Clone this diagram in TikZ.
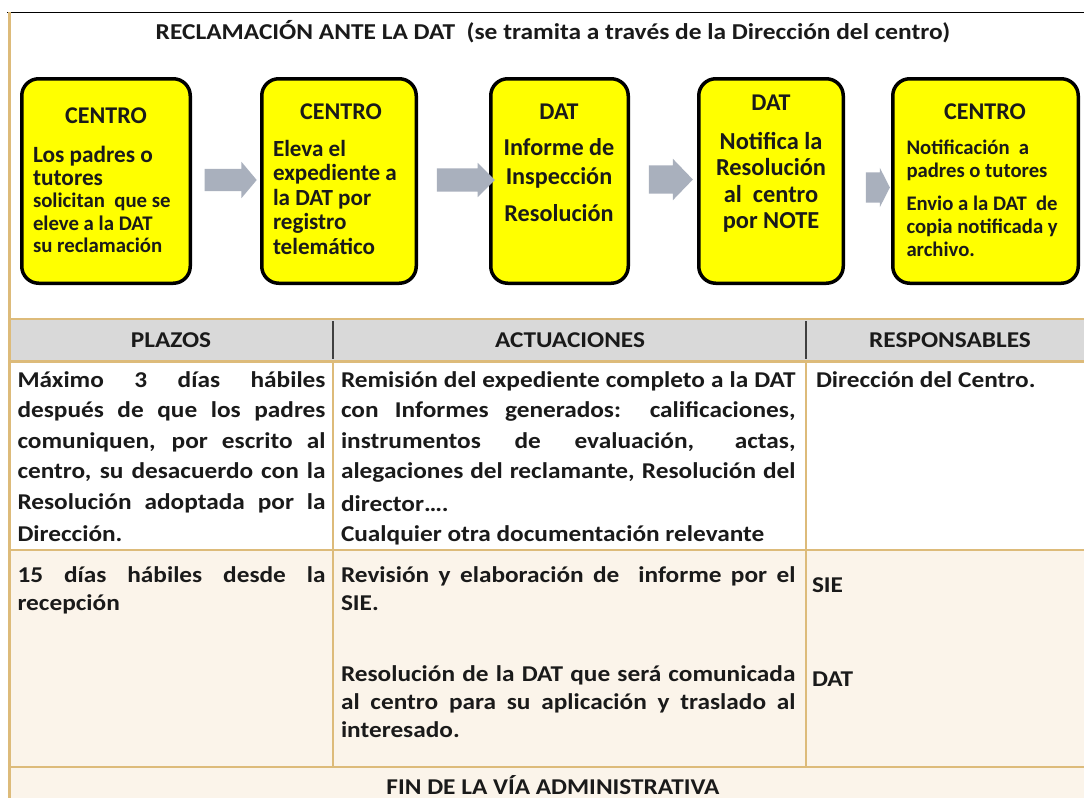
\documentclass[tikz,border=0pt]{standalone}
\usepackage{fontspec}
\setmainfont{Carlito}
\newfontfamily\wide{Carlito}[FakeStretch=1.12]
\usetikzlibrary{shapes.arrows}
\definecolor{gold}{HTML}{DDBB7A}
\definecolor{hdrgrey}{HTML}{D9D9D9}
\definecolor{cream}{HTML}{FBF4EA}
\definecolor{arrowgrey}{HTML}{A9B0BD}
\definecolor{boxyellow}{HTML}{FFFF00}
\definecolor{ink}{HTML}{1A1A1A}
\definecolor{darkline}{HTML}{404040}
\newcommand\fs[2]{\fontsize{#1pt}{#2pt}\selectfont}
\newcommand\tp{\rule{0pt}{30pt}}
\newcommand\jl[2]{\makebox[#1pt][s]{#2}}
\begin{document}
\begin{tikzpicture}[x=1pt,y=-1pt,
  every node/.style={inner sep=0pt, outer sep=0pt, text=ink},
  ybox/.style={draw=black, line width=3.5pt, fill=boxyellow, rounded corners=17pt, minimum height=204.5pt},
  garrow/.style={single arrow, fill=arrowgrey, draw=none, inner xsep=0pt, single arrow head extend=#1},
  boxhead/.style={anchor=base, font=\bfseries\fs{24}{24}},
  cell/.style={anchor=north west, align=left, font=\wide\bfseries\fs{22.6}{30.5}},
  hdr/.style={anchor=base, font=\wide\bfseries\fs{22.6}{22.6}},
  gline/.style={draw=gold, line width=2pt}]
\useasboundingbox (0,0) rectangle (1084,798);
% backgrounds
\fill[white] (0,0) rectangle (1084,798);
\fill[hdrgrey] (10,320) rectangle (1084,360);
\fill[cream] (10,550) rectangle (1084,798);
% frame lines
\draw[black, line width=1.2pt] (7,12.5) -- (1084,12.5);
\draw[gold, line width=3pt] (9.5,12) -- (9.5,798);
\draw[gline, line width=2.5pt] (10,319) -- (1084,319);
\draw[gline, line width=3pt] (10,361) -- (1084,361);
\draw[gline] (10,550) -- (1084,550);
\draw[gline] (10,767) -- (1084,767);
\draw[darkline, line width=1.2pt] (333,321) -- (333,359);
\draw[darkline, line width=1.2pt] (806,321) -- (806,359);
\draw[gline] (333,362) -- (333,767);
\draw[gline] (806,362) -- (806,767);
% title
\node[anchor=base, font=\wide\bfseries\fs{22.7}{22.7}] (title) at (553,39.3)
  {RECLAMACIÓN ANTE LA DAT\ \ (se tramita a través de la Dirección del centro)};
% boxes
\node[ybox, minimum width=168.5pt] (b1) at (106,181) {};
\node[ybox, minimum width=154.5pt] (b2) at (339,181) {};
\node[ybox, minimum width=137.5pt] (b3) at (559.5,181) {};
\node[ybox, minimum width=144.5pt] (b4) at (771,181) {};
\node[ybox, minimum width=185.5pt] (b5) at (985.5,181) {};
% arrows
\node[garrow=7pt, inner ysep=11pt, minimum width=36pt, minimum height=52pt, single arrow tip angle=100] (a1) at (226,180) {};
\node[garrow=5.5pt, inner ysep=11.5pt, minimum width=34pt, minimum height=58pt, single arrow tip angle=90] (a2) at (460,180) {};
\node[garrow=6.5pt, inner ysep=14pt, minimum width=41pt, minimum height=44pt, single arrow tip angle=92] (a3) at (664,179.5) {};
\node[garrow=4.5pt, inner ysep=15pt, minimum width=39pt, minimum height=24pt, single arrow tip angle=126] (a4) at (874,187.5) {};
% box texts
\node[boxhead] (b1h) at (106,123) {CENTRO};
\node[anchor=north west, align=left, font=\bfseries\fs{23.3}{23.5}] (b1t) at (33,132)
  {\tp Los padres o\\tutores};
\node[anchor=north west, align=left, font=\bfseries\fs{20.8}{22.5}] (b1u) at (33,177.5)
  {\tp solicitan\ \ que se\\eleve a la DAT\\su reclamación};
\node[boxhead] (b2h) at (341,119) {CENTRO};
\node[anchor=north west, align=left, font=\bfseries\fs{23.1}{24.5}] (b2t) at (273,126)
  {\tp Eleva el\\expediente a\\la DAT por\\registro\\telemático};
\node[boxhead] (b3h) at (559,119) {DAT};
\node[anchor=north, align=center, font=\bfseries\fs{24.2}{28.5}] (b3t) at (559,125.5)
  {\tp Informe de\\Inspección\\[8.5pt]Resolución};
\node[boxhead] (b4h) at (771,110.5) {DAT};
\node[anchor=north, align=center, font=\bfseries\fs{24.4}{26.5}] (b4t) at (771,119)
  {\tp Notifica la\\Resolución\\al\ \ centro\\por NOTE};
\node[boxhead] (b5h) at (985,119) {CENTRO};
\node[anchor=north west, align=left, font=\bfseries\fs{20.7}{22.5}] (b5t) at (906.5,124.5)
  {\tp Notificación\ \ a\\padres o tutores};
\node[anchor=north west, align=left, font=\bfseries\fs{20.7}{23}] (b5u) at (906.5,180.5)
  {\tp Envio a la DAT\ \ de\\copia notificada y\\archivo.};
% table header
\node[hdr] (hplazos) at (171,347) {PLAZOS};
\node[hdr] (hact) at (570,347) {ACTUACIONES};
\node[hdr] (hresp) at (950,347) {RESPONSABLES};
% row 1
\node[cell] (r1c1) at (17.5,357)
  {\tp\jl{308}{Máximo 3 días hábiles}\\
   \jl{308}{después de que los padres}\\
   \jl{308}{comuniquen, por escrito al}\\
   \jl{308}{centro, su desacuerdo con la}\\
   \jl{308}{Resolución adoptada por la}\\[2pt]
   Dirección.};
\node[cell] (r1c2) at (341,357)
  {\tp\jl{454.5}{Remisión del expediente completo a la DAT}\\
   \jl{454.5}{con Informes generados: calificaciones,}\\
   \jl{454.5}{instrumentos de evaluación, actas,}\\
   \jl{454.5}{alegaciones del reclamante, Resolución del}\\[2pt]
   director….\\
   Cualquier otra documentación relevante};
\node[anchor=base west, font=\wide\bfseries\fs{22.6}{30.5}] (r1c3) at (816,387) {Dirección del Centro.};
% row 2
\node[cell, font=\wide\bfseries\fs{22.6}{28}] (r2c1) at (17.5,552)
  {\tp\jl{308}{15 días hábiles desde la}\\recepción};
\node[cell, font=\wide\bfseries\fs{22.6}{28}] (r2c2) at (341,552)
  {\tp\jl{454.5}{Revisión y elaboración de\ \ informe por el}\\SIE.\\[43pt]
   \jl{454.5}{Resolución de la DAT que será comunicada}\\
   \jl{454.5}{al centro para su aplicación y traslado al}\\
   interesado.};
\node[anchor=base west, font=\wide\bfseries\fs{22.6}{28}] (r2c3a) at (812,592) {SIE};
\node[anchor=base west, font=\wide\bfseries\fs{22.6}{28}] (r2c3b) at (812,686) {DAT};
% footer
\node[hdr] (fin) at (553,794) {FIN DE LA VÍA ADMINISTRATIVA};
\end{tikzpicture}
\end{document}
